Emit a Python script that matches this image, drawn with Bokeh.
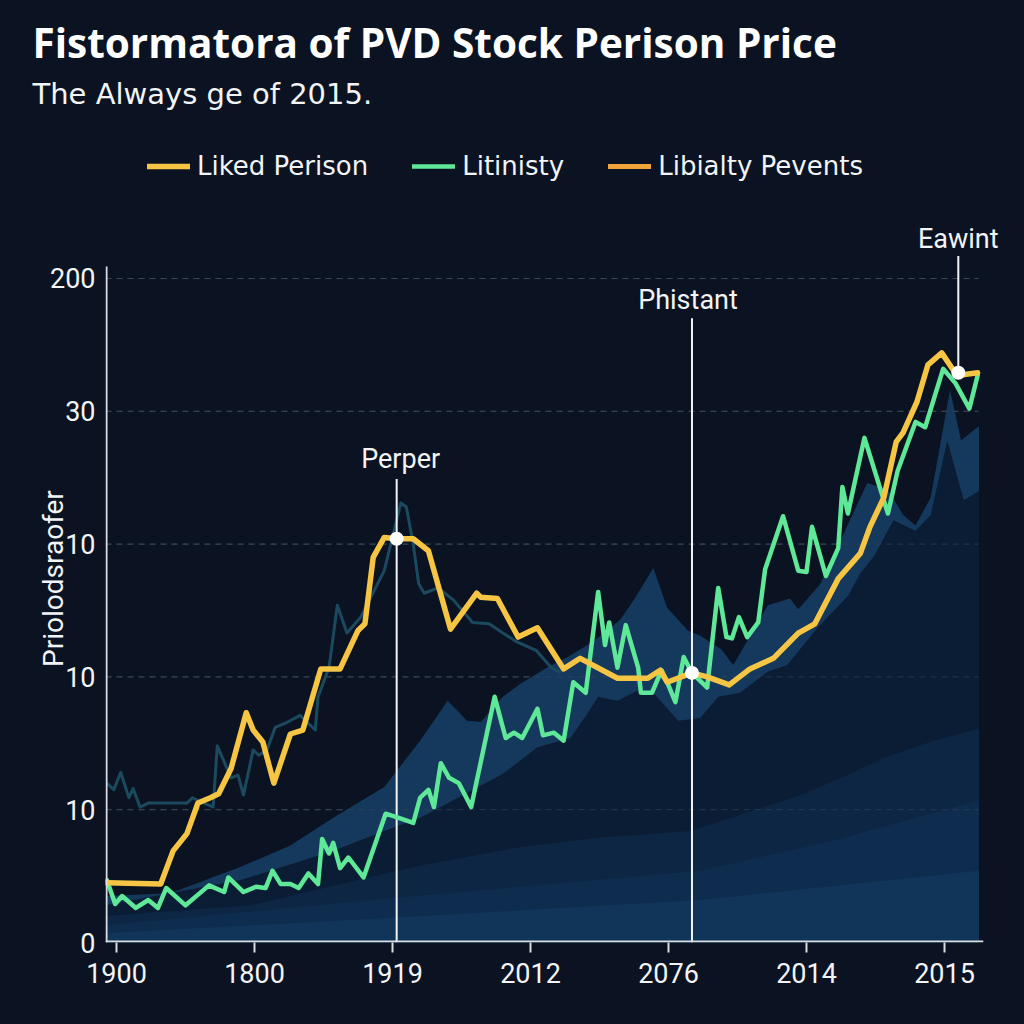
from bokeh.plotting import figure
from bokeh.models import Legend, LegendItem, LabelSet, ColumnDataSource, FixedTicker, Range1d, Title
from bokeh.core.properties import value
from bokeh.embed import file_html
from bokeh.resources import INLINE

BG = "#0b1322"

title_text = "Fistormatora of PVD Stock Perison Price"
subtitle_text = "The Always ge of 2015."
y_axis_title = "Priolodsraofer"

x_tick_pos = [0, 1, 2, 3, 4, 5, 6]
x_tick_labels = ["1900", "1800", "1919", "2012", "2076", "2014", "2015"]
y_tick_pos = [0, 1, 2, 3, 4, 5]
y_tick_labels = ["0", "10", "10", "10", "30", "200"]
y_axis_top = 5.09
x_axis_end = 6.246

series_names = ["Liked Perison", "Litinisty", "Libialty Pevents"]

liked_x = [-0.07, 0.32, 0.41, 0.51, 0.59, 0.68, 0.74, 0.83, 0.94, 0.99, 1.06, 1.14, 1.26, 1.35,
           1.48, 1.62, 1.75, 1.80, 1.86, 1.94, 2.03, 2.15, 2.26, 2.42, 2.61, 2.64, 2.76, 2.91,
           3.05, 3.24, 3.36, 3.63, 3.85, 3.94, 3.99, 4.17, 4.28, 4.44, 4.59, 4.76, 4.94, 5.06,
           5.23, 5.39, 5.46, 5.56, 5.65, 5.70, 5.80, 5.88, 5.98, 6.09, 6.24]
liked_y = [0.45, 0.44, 0.69, 0.82, 1.05, 1.09, 1.12, 1.31, 1.73, 1.60, 1.51, 1.20, 1.57, 1.60,
           2.06, 2.06, 2.35, 2.40, 2.90, 3.05, 3.04, 3.04, 2.95, 2.36, 2.63, 2.60, 2.59, 2.30,
           2.37, 2.06, 2.14, 1.99, 1.99, 2.05, 1.96, 2.03, 2.00, 1.94, 2.06, 2.14, 2.33, 2.40,
           2.74, 2.93, 3.13, 3.35, 3.77, 3.84, 4.07, 4.35, 4.44, 4.27, 4.29]

lit_x = [-0.07, -0.01, 0.04, 0.14, 0.23, 0.30, 0.36, 0.50, 0.67, 0.78, 0.81, 0.92, 1.01, 1.08,
         1.13, 1.19, 1.26, 1.32, 1.39, 1.46, 1.49, 1.54, 1.57, 1.62, 1.68, 1.79, 1.95, 2.04,
         2.15, 2.20, 2.26, 2.30, 2.35, 2.41, 2.48, 2.57, 2.74, 2.82, 2.88, 2.94, 3.05, 3.09,
         3.17, 3.24, 3.31, 3.40, 3.49, 3.54, 3.57, 3.63, 3.69, 3.78, 3.80, 3.88, 3.95, 3.99,
         4.05, 4.11, 4.17, 4.28, 4.36, 4.42, 4.46, 4.51, 4.57, 4.65, 4.70, 4.83, 4.94, 5.00,
         5.04, 5.14, 5.23, 5.26, 5.30, 5.42, 5.59, 5.66, 5.79, 5.86, 5.99, 6.08, 6.18, 6.24]
lit_y = [0.47, 0.29, 0.35, 0.26, 0.32, 0.26, 0.41, 0.28, 0.43, 0.38, 0.49, 0.38, 0.42, 0.41,
         0.54, 0.44, 0.44, 0.41, 0.52, 0.44, 0.78, 0.67, 0.75, 0.56, 0.64, 0.49, 0.97, 0.94,
         0.90, 1.09, 1.15, 1.02, 1.35, 1.24, 1.20, 1.02, 1.85, 1.54, 1.58, 1.54, 1.76, 1.56,
         1.58, 1.52, 1.96, 1.88, 2.64, 2.24, 2.41, 2.07, 2.39, 2.07, 1.88, 1.88, 2.05, 1.96,
         1.81, 2.15, 2.03, 1.92, 2.67, 2.30, 2.29, 2.45, 2.30, 2.41, 2.81, 3.21, 2.80, 2.79,
         3.13, 2.76, 2.97, 3.43, 3.23, 3.80, 3.23, 3.55, 3.92, 3.88, 4.32, 4.21, 4.02, 4.27]

# third series: only its final reading, hidden under the first series' end point
lib_x = [6.24]
lib_y = [4.29]

# faint background trace
trace_x = [-0.07, -0.02, 0.03, 0.09, 0.12, 0.17, 0.23, 0.51, 0.55, 0.70, 0.73, 0.83, 0.88, 0.92,
           0.99, 1.03, 1.09, 1.15, 1.24, 1.33, 1.44, 1.46, 1.54, 1.60, 1.67, 1.77, 1.94, 2.06,
           2.10, 2.15, 2.19, 2.23, 2.33, 2.44, 2.58, 2.70, 2.80, 2.89, 3.04, 3.15, 3.22]
trace_y = [1.20, 1.15, 1.28, 1.09, 1.16, 1.02, 1.05, 1.05, 1.09, 1.02, 1.48, 1.24, 1.26, 1.11,
           1.45, 1.41, 1.45, 1.62, 1.66, 1.71, 1.60, 1.85, 2.07, 2.54, 2.33, 2.45, 2.80, 3.31,
           3.28, 3.00, 2.70, 2.63, 2.67, 2.58, 2.41, 2.40, 2.33, 2.27, 2.20, 2.07, 2.03]

# layered background bands (back to front)
band1_x = [-0.08, 0.39, 0.90, 1.26, 1.57, 1.94, 2.20, 2.40, 2.54, 2.64, 2.80, 2.93, 3.12, 3.27,
           3.46, 3.65, 3.75, 3.89, 3.99, 4.14, 4.23, 4.38, 4.47, 4.72, 4.88, 4.94, 5.10, 5.27,
           5.44, 5.59, 5.70, 5.79, 5.90, 6.04, 6.12, 6.25]
band1_y = [0.35, 0.37, 0.57, 0.73, 0.94, 1.17, 1.52, 1.82, 1.67, 1.66, 1.85, 1.95, 2.07, 2.15,
           2.27, 2.43, 2.58, 2.82, 2.52, 2.35, 2.31, 2.21, 2.09, 2.54, 2.59, 2.51, 2.70, 3.08,
           3.46, 3.41, 3.22, 3.14, 3.35, 4.16, 3.78, 3.89]
band2_x = [-0.08, 0.90, 1.57, 1.94, 2.20, 2.80, 3.05, 3.29, 3.41, 3.49, 3.63, 3.78, 3.89, 4.07,
           4.23, 4.36, 4.52, 4.72, 4.86, 5.08, 5.30, 5.39, 5.49, 5.63, 5.79, 5.90, 6.02, 6.14, 6.25]
band2_y = [0.28, 0.47, 0.69, 0.84, 0.94, 1.27, 1.47, 1.54, 1.72, 1.85, 1.82, 1.90, 1.88, 1.67,
           1.69, 1.85, 1.88, 2.04, 2.09, 2.37, 2.61, 2.78, 2.91, 3.18, 3.10, 3.22, 3.78, 3.33, 3.40]
band3_x = [-0.08, 0.97, 2.20, 2.93, 3.51, 4.16, 4.96, 5.32, 5.56, 5.92, 6.25]
band3_y = [0.20, 0.28, 0.58, 0.72, 0.79, 0.84, 1.11, 1.27, 1.39, 1.52, 1.61]
band4_x = [-0.08, 2.06, 4.23, 5.20, 6.25]
band4_y = [0.13, 0.34, 0.54, 0.77, 1.07]
band5_x = [-0.08, 2.06, 4.23, 6.25]
band5_y = [0.07, 0.19, 0.32, 0.54]

band_colors = ["#15395d", "#0b1d34", "#0d2644", "#0e2d4e", "#113559"]

ann_names = ["Perper", "Phistant", "Eawint"]
ann_x = [2.03, 4.17, 6.10]
ann_point_y = [3.04, 2.03, 4.29]
ann_line_bottom = [0.0, 0.0, 4.29]
ann_line_top = [3.49, 4.70, 5.17]
ann_text_y = [3.57, 4.77, 5.23]
ann_text_dx = [4, -4, 0]

X0, X1 = -0.08, 6.442
p = figure(width=1024, height=1024, x_range=Range1d(X0, X1), y_range=Range1d(0, 6.265),
           output_backend="svg", toolbar_location=None, title=None,
           min_border_left=105, min_border_right=19, min_border_top=110, min_border_bottom=82,
           background_fill_color=BG, border_fill_color=BG, outline_line_color=None)
p.styles = {"background-color": BG}

# dashed horizontal guides at the y ticks, ending with the data area
grid_y = y_tick_pos[1:]
p.segment(x0=[X0] * len(grid_y), y0=grid_y, x1=[x_axis_end] * len(grid_y), y1=grid_y,
          line_color="#3b4757", line_width=1, line_dash="6 5")

for bx, by, col in zip([band1_x, band2_x, band3_x, band4_x, band5_x],
                       [band1_y, band2_y, band3_y, band4_y, band5_y], band_colors):
    p.varea(x=bx, y1=[0] * len(bx), y2=by, fill_color=col)

# the guides show faintly over the bands too
p.segment(x0=[X0] * len(grid_y), y0=grid_y, x1=[x_axis_end] * len(grid_y), y1=grid_y,
          line_color="#3b4757", line_width=1, line_dash="6 5", line_alpha=0.6)

p.line(trace_x, trace_y, line_color="#1b4a5f", line_width=3, line_join="round")

p.segment(x0=ann_x, y0=ann_line_bottom, x1=ann_x, y1=ann_line_top, line_color="#f2f4f7", line_width=2)

r_lib = p.line(lib_x, lib_y, line_color="#f0a53a", line_width=5, line_cap="round")
r_lit = p.line(lit_x, lit_y, line_color="#5ee897", line_width=4.5, line_join="round", line_cap="round")
r_liked = p.line(liked_x, liked_y, line_color="#f6c544", line_width=5.5, line_join="round", line_cap="round")

p.scatter(ann_x, ann_point_y, size=14, fill_color="white", line_color=None)

ann_src = ColumnDataSource(dict(x=ann_x, y=ann_text_y, text=ann_names, dx=ann_text_dx))
p.add_layout(LabelSet(x="x", y="y", text="text", x_offset="dx", source=ann_src,
                      text_align="center", text_baseline="alphabetic", text_color="#f2f4f7",
                      text_font=value("Roboto"), text_font_size=value("27px")))

# axis lines drawn to the extent of the data area
p.segment(x0=[X0 + 0.0075], y0=[0], x1=[X0 + 0.0075], y1=[y_axis_top], line_color="#d8dde3", line_width=2)
p.segment(x0=[X0], y0=[0.0075], x1=[x_axis_end + 0.035], y1=[0.0075], line_color="#d8dde3", line_width=2)

# axes
for ax in (p.xaxis[0], p.yaxis[0]):
    ax.minor_tick_line_color = None
    ax.axis_line_color = None
    ax.major_label_text_color = "#f2f4f7"
    ax.major_label_text_font = "Roboto"
    ax.major_label_text_font_size = "27px"
    ax.major_label_standoff = 10
p.xaxis.ticker = FixedTicker(ticks=x_tick_pos)
p.xaxis.major_label_overrides = {t: l for t, l in zip(x_tick_pos, x_tick_labels)}
p.xaxis.major_tick_out = 10
p.xaxis.major_tick_in = 0
p.xaxis.major_tick_line_color = "#d8dde3"
p.xaxis.major_tick_line_width = 2
p.yaxis.ticker = FixedTicker(ticks=y_tick_pos)
p.yaxis.major_label_overrides = {t: l for t, l in zip(y_tick_pos, y_tick_labels)}
p.yaxis.major_tick_line_color = None
p.yaxis.major_tick_out = 0
p.yaxis.major_tick_in = 0
# trailing no-break spaces keep the visible title centred lower, as in the reference
p.yaxis.axis_label = y_axis_title + "\u00a0" * 15
p.yaxis.axis_label_text_font = "Roboto"
p.yaxis.axis_label_text_font_style = "normal"
p.yaxis.axis_label_text_font_size = "28px"
p.yaxis.axis_label_text_color = "#f2f4f7"
p.yaxis.axis_label_standoff = -23

p.xgrid.grid_line_color = None
p.ygrid.grid_line_color = None

legend = Legend(items=[LegendItem(label=series_names[0], renderers=[r_liked]),
                       LegendItem(label=series_names[1], renderers=[r_lit]),
                       LegendItem(label=series_names[2], renderers=[r_lib])],
                orientation="horizontal", location=(42, 761),
                background_fill_alpha=0, border_line_alpha=0,
                label_text_color="#f2f4f7", label_text_font="DejaVu Sans", label_text_font_size="26px",
                glyph_width=43, glyph_height=28, label_height=28, label_standoff=7, spacing=44,
                padding=0, margin=0)
p.add_layout(legend, "center")

p.add_layout(Title(text=subtitle_text, text_font="DejaVu Sans", text_font_style="normal",
                   text_font_size="29px", text_color="#f2f4f7", align="left", offset=-73,
                   standoff=0), "above")
p.add_layout(Title(text=title_text, text_font="Open Sans", text_font_style="bold",
                   text_font_size="40.5px", text_color="#ffffff", align="left", offset=-73,
                   standoff=10), "above")

open("out.html", "w").write(file_html(p, INLINE))
